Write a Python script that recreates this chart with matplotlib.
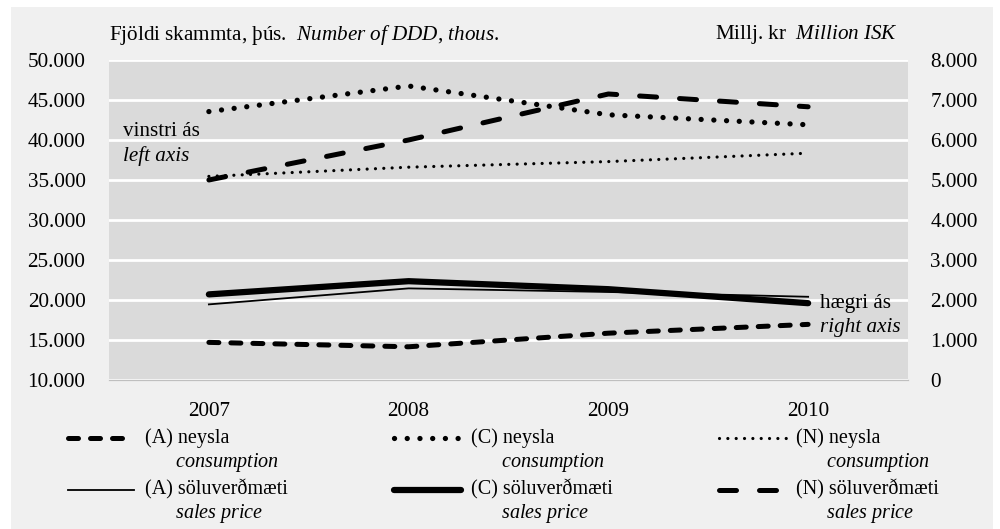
import numpy as np
import matplotlib
matplotlib.use('Agg')
import matplotlib.pyplot as plt
from matplotlib.patches import Rectangle
from matplotlib.legend_handler import HandlerLine2D
from matplotlib.ticker import FuncFormatter

plt.rcParams['font.family'] = ['Liberation Serif', 'DejaVu Serif']
plt.rcParams['mathtext.fontset'] = 'custom'
plt.rcParams['mathtext.rm'] = 'Liberation Serif'
plt.rcParams['mathtext.it'] = 'Liberation Serif:italic'

# %% gögn / data
years = ['2007', '2008', '2009', '2010']
# vinstri ás: neysla, þús. DDD
a_neysla = [14700, 14150, 15850, 16950]
c_neysla = [43550, 46750, 43150, 41900]
n_neysla = [35450, 36600, 37300, 38350]
# hægri ás: söluverðmæti, millj. kr
a_sala = [1890, 2290, 2200, 2080]
c_sala = [2140, 2470, 2270, 1920]
n_sala = [5000, 6000, 7150, 6830]

left_ticks = np.arange(10000, 50001, 5000)
right_ticks = np.arange(0, 8001, 1000)

FS = 15.2
LFS = 14.5
bg = '#f0f0f0'
plot_bg = '#dadada'


def thous(v, pos=None):
    return f'{v:,.0f}'.replace(',', '.')


class UpHandler(HandlerLine2D):
    # legend line sits at first text line, not in the middle
    def create_artists(self, legend, orig_handle, xdescent, ydescent,
                       width, height, fontsize, trans):
        arts = super().create_artists(legend, orig_handle, xdescent, ydescent,
                                      width, height, fontsize, trans)
        for a in arts:
            a.set_ydata(np.asarray(a.get_ydata(), float) + 0.62 * fontsize)
        return arts


# %%
fig = plt.figure(figsize=(10, 5.29), dpi=100)
fig.patch.set_facecolor('white')
fig.add_artist(Rectangle((0.011, 0), 0.982, 522 / 529, transform=fig.transFigure,
                         facecolor=bg, edgecolor='none', zorder=-10))

ax = fig.add_axes([0.109, 0.2817, 0.799, 0.6049])
ax.set_facecolor(plot_bg)
ax2 = ax.twinx()

x = np.arange(len(years))

l1, = ax.plot(x, a_neysla, color='black', lw=3.6, solid_capstyle='round',
              dash_capstyle='round', linestyle=(0, (2.0, 2.4)))
l2, = ax.plot(x, c_neysla, color='black', lw=3.8, dash_capstyle='round',
              linestyle=(0, (0.01, 2.4)))
l3, = ax.plot(x, n_neysla, color='black', lw=2.3, dash_capstyle='round',
              linestyle=(0, (0.01, 2.6)))
l4, = ax2.plot(x, a_sala, color='black', lw=1.3)
l5, = ax2.plot(x, c_sala, color='black', lw=4.5, solid_capstyle='round')
l6, = ax2.plot(x, n_sala, color='black', lw=3.6, dash_capstyle='round',
               linestyle=(0, (3.4, 4.6)))

ax.set_xlim(-0.5, 3.5)
ax.set_ylim(10000, 50000)
ax2.set_ylim(0, 8000)
ax.set_xticks(x)
ax.set_xticklabels(years)
ax.set_yticks(left_ticks)
ax2.set_yticks(right_ticks)
ax.yaxis.set_major_formatter(FuncFormatter(thous))
ax2.yaxis.set_major_formatter(FuncFormatter(thous))

ax.grid(axis='y', color='white', lw=2)
ax.set_axisbelow(True)
ax.tick_params(axis='both', length=0, labelsize=FS)
ax.tick_params(axis='y', pad=17)
ax.tick_params(axis='x', pad=16)
ax2.tick_params(axis='y', length=0, labelsize=FS, pad=16)
for a in (ax, ax2):
    for s in ['top', 'left', 'right']:
        a.spines[s].set_visible(False)
    a.spines['bottom'].set_color('#bfbfbf')

# ástitlar
fig.text(0.109, 1 - 35 / 529, r'Fjöldi skammta, þús.  $\mathit{Number\ of\ DDD{,}\ thous.}$',
         fontsize=FS, va='center', ha='left')
fig.text(0.898, 1 - 35 / 529, r'Millj. kr  $\mathit{Million\ ISK}$',
         fontsize=FS, va='center', ha='right')

ax.text(0.0175, 0.775, 'vinstri ás', transform=ax.transAxes, fontsize=FS, va='center')
ax.text(0.0175, 0.70, 'left axis', transform=ax.transAxes, fontsize=FS, va='center',
        style='italic')
ax.text(0.89, 0.24, 'hægri ás', transform=ax.transAxes, fontsize=FS, va='center')
ax.text(0.89, 0.1625, 'right axis', transform=ax.transAxes, fontsize=FS, va='center',
        style='italic')

# skýringar / legend
ind = '      '
handles = [l1, l4, l2, l5, l3, l6]
labels = ['(A) neysla\n' + ind + r'$\mathit{consumption}$',
          '(A) söluverðmæti\n' + ind + r'$\mathit{sales\ price}$',
          '(C) neysla\n' + ind + r'$\mathit{consumption}$',
          '(C) söluverðmæti\n' + ind + r'$\mathit{sales\ price}$',
          '(N) neysla\n' + ind + r'$\mathit{consumption}$',
          '(N) söluverðmæti\n' + ind + r'$\mathit{sales\ price}$']
fig.legend(handles, labels, ncol=3, loc='upper left',
           bbox_to_anchor=(0.068, 1 - 428 / 529), frameon=False, fontsize=LFS,
           handlelength=3.3, handletextpad=0.5, columnspacing=5.3,
           labelspacing=0.25, borderpad=0, borderaxespad=0,
           handler_map={matplotlib.lines.Line2D: UpHandler()})

fig.savefig('out.png', dpi=100, facecolor=fig.get_facecolor())
